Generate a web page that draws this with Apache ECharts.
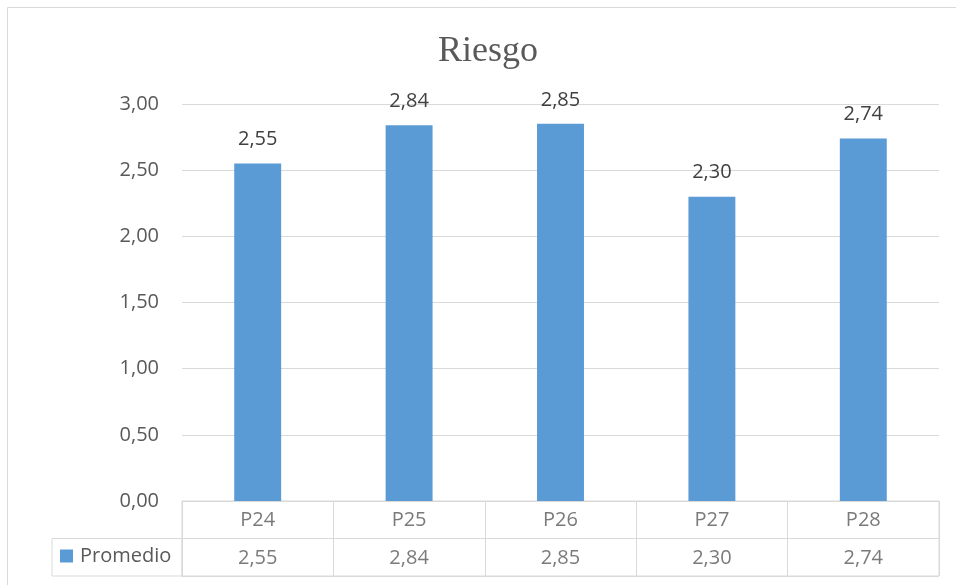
<!DOCTYPE html>
<html>
<head>
<meta charset="utf-8">
<title>Riesgo</title>
<script src="https://cdn.jsdelivr.net/npm/echarts@6/dist/echarts.min.js"></script>
<style>
  html, body { margin: 0; padding: 0; background: #ffffff; }
  #chart { width: 956px; height: 585px; }
</style>
</head>
<body>
<div id="chart"></div>
<script>
// Chart data
const categories = ['P24', 'P25', 'P26', 'P27', 'P28'];
const seriesName = 'Promedio';
const promedio = [2.55, 2.84, 2.85, 2.30, 2.74];
const yTicks = { min: 0, max: 3, interval: 0.5 };

// Decimal comma formatting (es)
const fmt = v => Number(v).toFixed(2).replace('.', ',');

const FONT = '"Open Sans", "Noto Sans", sans-serif';
const GRAY_LINE = '#d9d9d9';
const TEXT = '#595959';

// Data table cells: header row (categories) and value row
const tableCells = [];
categories.forEach((c, i) => {
  tableCells.push([i, 0, c]);
  tableCells.push([i, 1, fmt(promedio[i])]);
});

const chart = echarts.init(document.getElementById('chart'), null, { renderer: 'canvas' });

chart.setOption({
  animation: false,
  backgroundColor: '#ffffff',
  title: {
    text: 'Riesgo',
    left: 438,
    top: 34,
    padding: 0,
    textStyle: {
      fontFamily: '"Liberation Serif", "Times New Roman", serif',
      fontWeight: 'normal',
      fontSize: 36,
      color: TEXT
    }
  },
  legend: {
    data: [seriesName],
    left: 60,
    top: 546,
    padding: 0,
    itemWidth: 13,
    itemHeight: 13,
    icon: 'rect',
    selectedMode: false,
    textStyle: { fontFamily: FONT, fontSize: 20, color: TEXT, padding: [0, 0, 0, 2] }
  },
  graphic: [{
    type: 'rect',
    silent: true,
    z: -1,
    shape: { x: 7.5, y: 7.5, width: 1000, height: 1000 },
    style: { fill: 'none', stroke: GRAY_LINE, lineWidth: 1 }
  }],
  grid: [
    // plot area
    { left: 182, right: 17, top: 104, bottom: 84 },
    // data table
    { left: 182, right: 17, top: 501, bottom: 9, show: true, borderColor: GRAY_LINE, borderWidth: 1 },
    // legend key cell of the data table
    { left: 52, width: 130, top: 538.5, bottom: 9, show: true, borderColor: GRAY_LINE, borderWidth: 1 }
  ],
  xAxis: [
    {
      type: 'category', gridIndex: 0, data: categories,
      axisLine: { show: true, lineStyle: { color: GRAY_LINE } },
      axisTick: { show: false }, axisLabel: { show: false }
    },
    {
      type: 'category', gridIndex: 1, data: categories,
      axisLine: { show: false }, axisTick: { show: false }, axisLabel: { show: false },
      splitLine: { show: true, interval: 0, lineStyle: { color: GRAY_LINE } }
    },
    { type: 'value', gridIndex: 2, show: false }
  ],
  yAxis: [
    {
      type: 'value', gridIndex: 0,
      min: yTicks.min, max: yTicks.max, interval: yTicks.interval,
      axisLine: { show: false }, axisTick: { show: false },
      axisLabel: { formatter: fmt, color: TEXT, fontFamily: FONT, fontSize: 20, margin: 23 },
      splitLine: { lineStyle: { color: GRAY_LINE } }
    },
    {
      type: 'category', gridIndex: 1, data: ['cat', 'val'], inverse: true,
      axisLine: { show: false }, axisTick: { show: false }, axisLabel: { show: false },
      splitLine: { show: true, interval: 0, lineStyle: { color: GRAY_LINE } }
    },
    { type: 'value', gridIndex: 2, show: false }
  ],
  series: [
    {
      name: seriesName,
      type: 'bar',
      xAxisIndex: 0, yAxisIndex: 0,
      data: promedio,
      barWidth: '31%',
      itemStyle: { color: '#5b9bd5' },
      label: {
        show: true,
        position: 'top',
        distance: 14,
        formatter: p => fmt(p.value),
        fontFamily: FONT,
        fontSize: 20,
        color: '#404040'
      }
    },
    {
      name: 'tabla',
      type: 'scatter',
      xAxisIndex: 1, yAxisIndex: 1,
      silent: true,
      symbolSize: 1,
      itemStyle: { color: 'rgba(0,0,0,0)' },
      data: tableCells,
      label: {
        show: true,
        position: 'inside',
        offset: [0, 1],
        formatter: p => p.value[2],
        fontFamily: FONT,
        fontSize: 20,
        color: TEXT
      }
    }
  ]
});
</script>
</body>
</html>
